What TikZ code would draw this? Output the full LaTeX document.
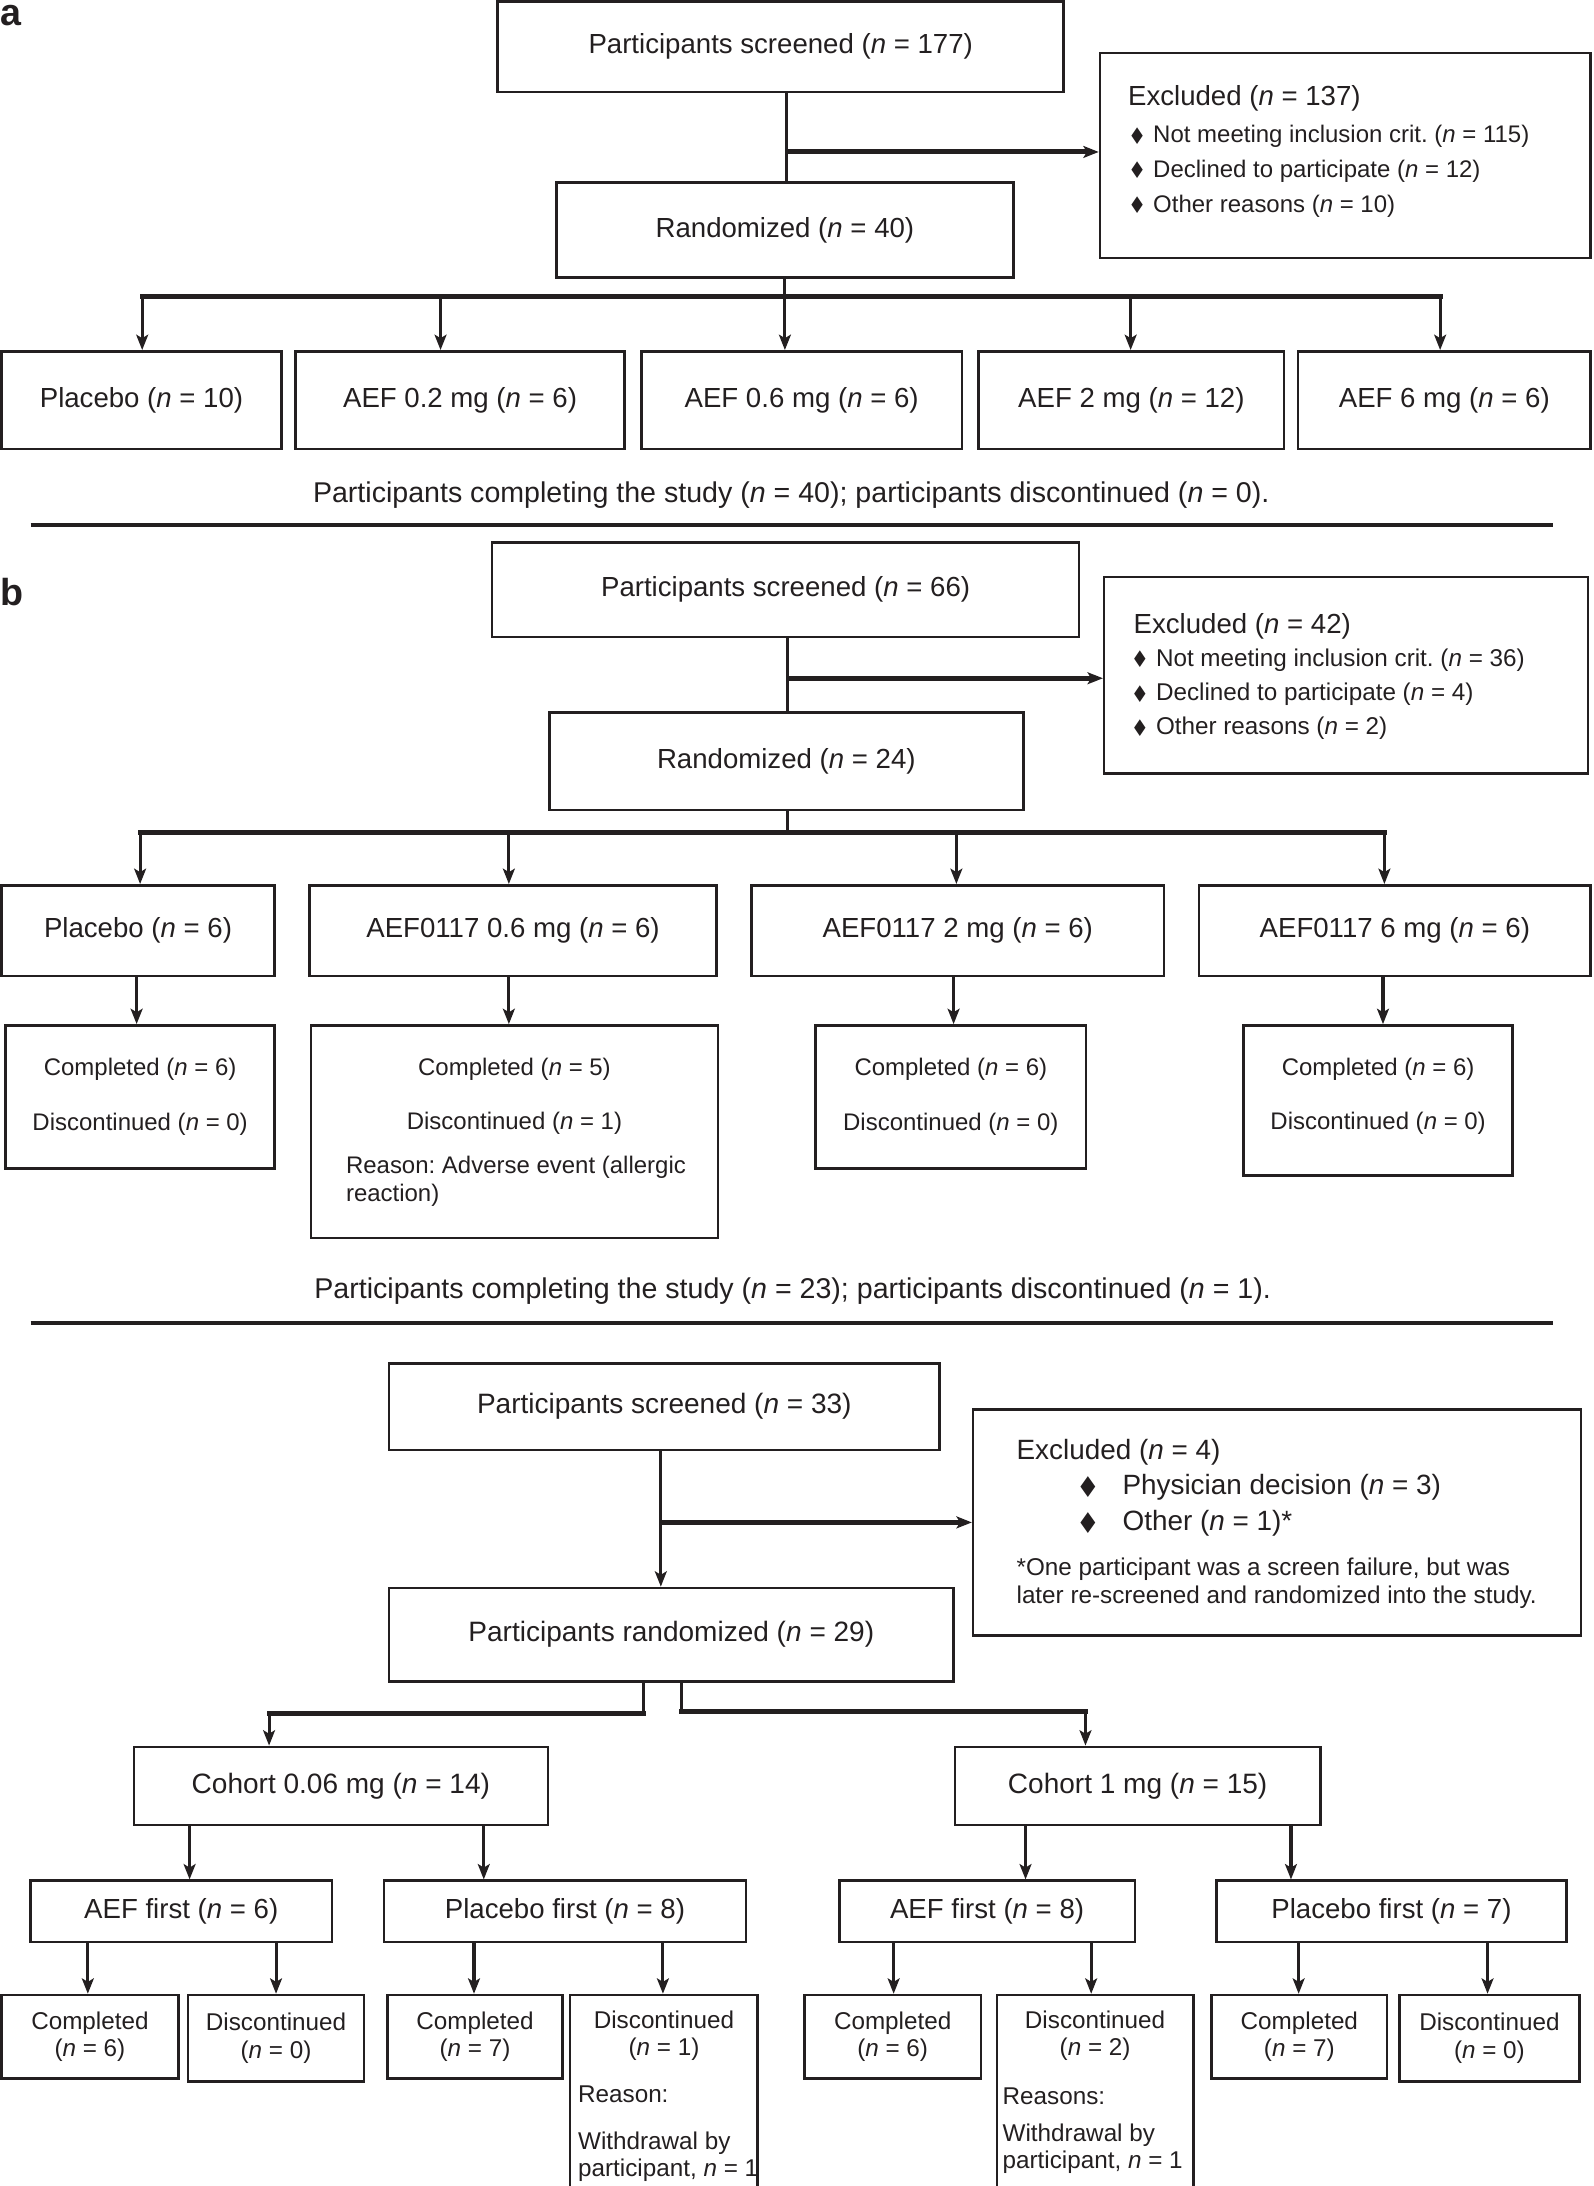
\documentclass[tikz,border=0pt]{standalone}
\usepackage{fontspec}
\setmainfont{Liberation Sans}
\newfontfamily\djv{DejaVu Sans}
\usepackage{graphicx}
\usetikzlibrary{arrows.meta}
\frenchspacing
\definecolor{linec}{HTML}{231F20}
\definecolor{textc}{HTML}{231F20}
\newcommand{\fmain}{\fontsize{19.8}{24}\selectfont}
\newcommand{\fcoh}{\fontsize{20.1}{24}\selectfont}
\newcommand{\fsum}{\fontsize{20.5}{24}\selectfont}
\newcommand{\fcomp}{\fontsize{17.2}{39}\selectfont}
\newcommand{\fleaf}{\fontsize{17.4}{19.5}\selectfont}
\newcommand{\nn}{\textit{n}}
\newcommand{\dia}{\raisebox{-1pt}{\resizebox{13pt}{12pt}{\djv ♦}}}
\newcommand{\diab}{\raisebox{-2pt}{\resizebox{17pt}{15pt}{\djv ♦}}}
\newcommand{\bx}[7][]{\node[box,#1,minimum width={(#5)-(#3)},minimum height={(#6)-(#4)}] (#2) at ({((#3)+(#5))/2},{((#4)+(#6))/2}) {#7};}
\begin{document}
\begin{tikzpicture}[x=1pt,y=-1pt,
  box/.style={draw=linec, line width=1.8pt, inner sep=0pt, text=textc, align=center},
  txt/.style={inner sep=0pt, text=textc},
  conn/.style={draw=linec, line width=2.2pt},
  bus/.style={draw=linec, line width=3.6pt, line cap=rect},
  bar/.style={draw=linec, line width=3.6pt},
  arr/.style={-{Stealth[length=11pt,width=8.5pt,inset=2.5pt]}},
  rulel/.style={draw=linec, line width=3.2pt}]
\useasboundingbox (0,0) rectangle (1143,1568);

% ---------------- panel a ----------------
\node[txt, font=\bfseries\fontsize{27}{27}\selectfont, anchor=base west] (labA) at (0.5,18) {a};
\bx[font=\fmain]{scrA}{357}{1.2}{763}{66}{Participants screened (\nn{} = 177)}
\bx{exclA}{789}{38}{1141}{185}{}
\node[txt, anchor=west, align=left, font=\fontsize{17.2}{25}\selectfont] (exclAt) at (809,108.5)
  {{\fmain Excluded (\nn{} = 137)}\\[2pt]
   \dia\hspace{5pt}Not meeting inclusion crit. (\nn{} = 115)\\
   \dia\hspace{5pt}Declined to participate (\nn{} = 12)\\
   \dia\hspace{5pt}Other reasons (\nn{} = 10)};
\bx[font=\fmain]{randA}{399}{131}{727}{199}{Randomized (\nn{} = 40)}
\bx[font=\fmain]{armA1}{1}{252}{202}{322}{Placebo (\nn{} = 10)}
\bx[font=\fmain]{armA2}{212}{252}{448}{322}{AEF 0.2 mg (\nn{} = 6)}
\bx[font=\fmain]{armA3}{460}{252}{690}{322}{AEF 0.6 mg (\nn{} = 6)}
\bx[font=\fmain]{armA4}{702}{252}{921}{322}{AEF 2 mg (\nn{} = 12)}
\bx[font=\fmain]{armA5}{931}{252}{1141}{322}{AEF 6 mg (\nn{} = 6)}
\coordinate (jA) at (564,109);
\coordinate (bA0) at (563,213);
\coordinate (bA1) at (102,213);
\coordinate (bA2) at (316,213);
\coordinate (bA3) at (563,213);
\coordinate (bA4) at (811,213);
\coordinate (bA5) at (1033,213);
\draw[conn] (jA |- scrA.south) -- (jA |- randA.north);
\draw[bar,arr] (jA) -- (jA -| exclA.west);
\draw[conn] (bA0 |- randA.south) -- (bA0);
\draw[bus] (bA1) -- (bA5);
\foreach \i in {1,...,5} {\draw[conn,arr] (bA\i) -- (bA\i |- armA\i.north);}
\node[txt, font=\fsum] (sumA) at (567.5,355) {Participants completing the study (\nn{} = 40); participants discontinued (\nn{} = 0).};
\draw[rulel] (22,376.5) -- (1114,376.5);

% ---------------- panel b ----------------
\node[txt, font=\bfseries\fontsize{27}{27}\selectfont, anchor=base west] (labB) at (0.5,434) {b};
\bx[font=\fmain]{scrB}{353}{389}{774}{457}{Participants screened (\nn{} = 66)}
\bx{exclB}{792}{414}{1139}{555}{}
\node[txt, anchor=west, align=left, font=\fontsize{17.4}{24.5}\selectfont] (exclBt) at (813,485.5)
  {{\fmain Excluded (\nn{} = 42)}\\[-1pt]
   \hspace*{-2pt}\dia\hspace{5pt}Not meeting inclusion crit. (\nn{} = 36)\\
   \hspace*{-2pt}\dia\hspace{5pt}Declined to participate (\nn{} = 4)\\
   \hspace*{-2pt}\dia\hspace{5pt}Other reasons (\nn{} = 2)};
\bx[font=\fmain]{randB}{394}{511}{734}{581}{Randomized (\nn{} = 24)}
\bx[font=\fmain]{armB1}{1}{635}{197}{700}{Placebo (\nn{} = 6)}
\bx[font=\fmain]{armB2}{222}{635}{514}{700}{AEF0117 0.6 mg (\nn{} = 6)}
\bx[font=\fmain]{armB3}{539}{635}{835}{700}{AEF0117 2 mg (\nn{} = 6)}
\bx[font=\fmain]{armB4}{860}{635}{1141}{700}{AEF0117 6 mg (\nn{} = 6)}
\bx[font=\fcomp]{compB1}{4}{735.5}{197}{838}{Completed (\nn{} = 6)\\Discontinued (\nn{} = 0)}
\bx{compB2}{223}{735.5}{515}{888}{}
\node[txt, font=\fcomp, align=center] (compB2t) at (369,786.5) {Completed (\nn{} = 5)\\Discontinued (\nn{} = 1)};
\node[txt, font=\fontsize{17.2}{20}\selectfont, align=left, anchor=west] (compB2r) at (248,847.5) {Reason: Adverse event (allergic\\reaction)};
\bx[font=\fcomp]{compB3}{585}{735.5}{779}{838}{Completed (\nn{} = 6)\\Discontinued (\nn{} = 0)}
\bx{compB4}{892}{735.5}{1085}{843}{}
\node[txt, font=\fcomp, align=center] (compB4t) at (988.5,786.5) {Completed (\nn{} = 6)\\Discontinued (\nn{} = 0)};
\coordinate (jB) at (565,486.5);
\coordinate (bB0) at (565,597);
\coordinate (bB1) at (100.5,597);
\coordinate (bB2) at (365,597);
\coordinate (bB3) at (686,597);
\coordinate (bB4) at (993,597);
\draw[conn] (jB |- scrB.south) -- (jB |- randB.north);
\draw[bar,arr] (jB) -- (jB -| exclB.west);
\draw[conn] (bB0 |- randB.south) -- (bB0);
\draw[bus] (bB1) -- (bB4);
\foreach \i in {1,...,4} {\draw[conn,arr] (bB\i) -- (bB\i |- armB\i.north);}
\coordinate (dB1) at (98,0);
\coordinate (dB2) at (365,0);
\coordinate (dB3) at (684,0);
\coordinate (dB4) at (992,0);
\foreach \i in {1,...,4} {\draw[conn,arr] (dB\i |- armB\i.south) -- (dB\i |- compB\i.north);}
\node[txt, font=\fsum] (sumB) at (568.5,926) {Participants completing the study (\nn{} = 23); participants discontinued (\nn{} = 1).};
\draw[rulel] (22,949) -- (1114,949);

% ---------------- panel c ----------------
\bx[font=\fcoh]{scrC}{279}{978}{674}{1040}{Participants screened (\nn{} = 33)}
\bx{exclC}{698}{1011}{1134}{1173}{}
\node[txt, anchor=west, align=left, font=\fontsize{20}{25.5}\selectfont] (exclCt) at (729,1093)
  {Excluded (\nn{} = 4)\\
   \hspace*{43pt}\diab\hspace{16pt}Physician decision (\nn{} = 3)\\
   \hspace*{43pt}\diab\hspace{16pt}Other (\nn{} = 1)*\\[7pt]
   {\fontsize{17.4}{20}\selectfont *One participant was a screen failure, but was}\\[-5.5pt]
   {\fontsize{17.4}{20}\selectfont later re-screened and randomized into the study.}};
\bx[font=\fcoh]{randC}{279}{1139}{684}{1206}{Participants randomized (\nn{} = 29)}
\coordinate (jC) at (474,1092);
\draw[conn,arr] (jC |- scrC.south) -- (jC |- randC.north);
\draw[bar,arr] (jC) -- (jC -| exclC.west);
\bx[font=\fcoh]{cohC1}{96}{1253}{393}{1309}{Cohort 0.06 mg (\nn{} = 14)}
\bx[font=\fcoh]{cohC2}{685}{1253}{947}{1309}{Cohort 1 mg (\nn{} = 15)}
\coordinate (lC1) at (461.5,1229);
\coordinate (lC2) at (193,1229);
\coordinate (rC1) at (488.5,1227.4);
\coordinate (rC2) at (778.6,1227.4);
\draw[conn] (lC1 |- randC.south) -- (lC1);
\draw[bus] (lC1) -- (lC2);
\draw[conn,arr] (lC2) -- (lC2 |- cohC1.north);
\draw[conn] (rC1 |- randC.south) -- (rC1);
\draw[bus] (rC1) -- (rC2);
\draw[conn,arr] (rC2) -- (rC2 |- cohC2.north);
\bx[font=\fmain]{subC1}{22}{1349}{238}{1393}{AEF first (\nn{} = 6)}
\bx[font=\fmain]{subC2}{275.5}{1349}{535}{1393}{Placebo first (\nn{} = 8)}
\bx[font=\fmain]{subC3}{602}{1349}{814}{1393}{AEF first (\nn{} = 8)}
\bx[font=\fmain]{subC4}{872.5}{1349}{1123.6}{1393}{Placebo first (\nn{} = 7)}
\coordinate (cA1) at (136,0);
\coordinate (cA2) at (347,0);
\coordinate (cA3) at (735.6,0);
\coordinate (cA4) at (926,0);
\draw[conn,arr] (cA1 |- cohC1.south) -- (cA1 |- subC1.north);
\draw[conn,arr] (cA2 |- cohC1.south) -- (cA2 |- subC2.north);
\draw[conn,arr] (cA3 |- cohC2.south) -- (cA3 |- subC3.north);
\draw[conn,arr] (cA4 |- cohC2.south) -- (cA4 |- subC4.north);
\bx[font=\fleaf]{leafC1}{1}{1431}{128}{1491}{Completed\\(\nn{} = 6)}
\bx[font=\fleaf]{leafC2}{135}{1431}{261}{1493}{Discontinued\\(\nn{} = 0)}
\bx[font=\fleaf]{leafC3}{278}{1431}{403.5}{1491}{Completed\\(\nn{} = 7)}
\bx{leafC4}{409}{1431}{543.5}{1640}{}
\bx[font=\fleaf]{leafC5}{577}{1431}{703.6}{1491}{Completed\\(\nn{} = 6)}
\bx{leafC6}{715}{1431}{856}{1640}{}
\bx[font=\fleaf]{leafC7}{869}{1431}{995}{1491}{Completed\\(\nn{} = 7)}
\bx[font=\fleaf]{leafC8}{1003.7}{1431}{1133}{1493}{Discontinued\\(\nn{} = 0)}
\node[txt, font=\fleaf, align=center] (leafC4a) at (476.25,1460) {Discontinued\\(\nn{} = 1)};
\node[txt, font=\fleaf, anchor=west] (leafC4b) at (414.5,1502) {Reason:};
\node[txt, font=\fleaf, align=left, anchor=west] (leafC4c) at (414.5,1547.25) {Withdrawal by\\participant, \nn{} = 1};
\node[txt, font=\fleaf, align=center] (leafC6a) at (785.5,1460) {Discontinued\\(\nn{} = 2)};
\node[txt, font=\fleaf, anchor=west] (leafC6b) at (719,1503.5) {Reasons:};
\node[txt, font=\fleaf, align=left, anchor=west] (leafC6c) at (719,1541.3) {Withdrawal by\\participant, \nn{} = 1};
\coordinate (eA1) at (63,0);
\coordinate (eA2) at (198,0);
\coordinate (eA3) at (340,0);
\coordinate (eA4) at (475.5,0);
\coordinate (eA5) at (641,0);
\coordinate (eA6) at (782.7,0);
\coordinate (eA7) at (931.5,0);
\coordinate (eA8) at (1067,0);
\draw[conn,arr] (eA1 |- subC1.south) -- (eA1 |- leafC1.north);
\draw[conn,arr] (eA2 |- subC1.south) -- (eA2 |- leafC2.north);
\draw[conn,arr] (eA3 |- subC2.south) -- (eA3 |- leafC3.north);
\draw[conn,arr] (eA4 |- subC2.south) -- (eA4 |- leafC4.north);
\draw[conn,arr] (eA5 |- subC3.south) -- (eA5 |- leafC5.north);
\draw[conn,arr] (eA6 |- subC3.south) -- (eA6 |- leafC6.north);
\draw[conn,arr] (eA7 |- subC4.south) -- (eA7 |- leafC7.north);
\draw[conn,arr] (eA8 |- subC4.south) -- (eA8 |- leafC8.north);
\end{tikzpicture}
\end{document}
